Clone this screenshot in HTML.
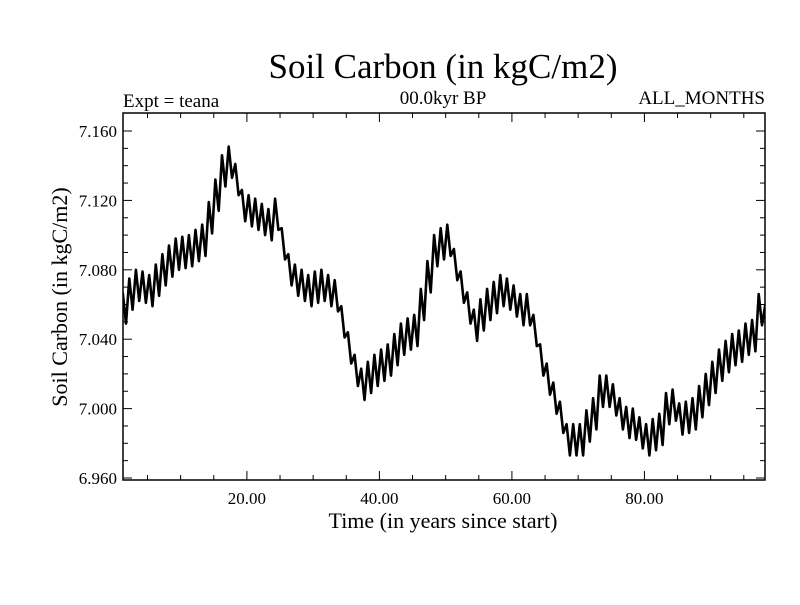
<!DOCTYPE html>
<html><head><meta charset="utf-8"><style>
body{margin:0;background:#fff}
svg text{font-family:"Liberation Serif",serif;fill:#000}
</style></head><body>
<svg id="chart" width="800" height="600" xmlns="http://www.w3.org/2000/svg">
<rect width="800" height="600" fill="#fff"/>
<text x="443" y="78" font-size="35" text-anchor="middle">Soil Carbon (in kgC/m2)</text>
<text x="123" y="107" font-size="19">Expt = teana</text>
<text x="443" y="104" font-size="19" text-anchor="middle">00.0kyr BP</text>
<text x="765" y="104" font-size="19" text-anchor="end">ALL_MONTHS</text>
<text transform="translate(67,297) rotate(-90)" font-size="22" text-anchor="middle">Soil Carbon (in kgC/m2)</text>
<text x="443" y="528" font-size="22" text-anchor="middle">Time (in years since start)</text>
<defs><clipPath id="pc"><rect x="123" y="113" width="642" height="367"/></clipPath></defs>
<g id="axes"></g>
<g id="series" clip-path="url(#pc)"></g>
<rect x="123" y="113" width="642" height="367" fill="none" stroke="#000" stroke-width="1.5"/>
</svg>
<script>
const startYear = 1;
const highs = [7.067,7.075,7.080,7.079,7.077,7.083,7.089,7.094,7.098,7.099,7.100,7.103,7.106,7.119,7.132,7.146,7.151,7.141,7.126,7.123,7.121,7.118,7.115,7.121,7.104,7.089,7.083,7.080,7.077,7.079,7.080,7.077,7.074,7.059,7.044,7.031,7.023,7.027,7.031,7.034,7.037,7.043,7.049,7.052,7.054,7.069,7.085,7.100,7.104,7.106,7.092,7.079,7.067,7.057,7.063,7.069,7.073,7.077,7.075,7.071,7.066,7.066,7.054,7.037,7.026,7.015,7.004,6.991,6.991,6.991,6.999,7.006,7.019,7.019,7.014,7.006,7.001,7.000,6.995,6.991,6.994,6.997,7.009,7.011,7.003,7.004,7.006,7.013,7.020,7.027,7.034,7.039,7.043,7.045,7.049,7.051,7.066,7.060];
const lows = [7.049,7.057,7.062,7.061,7.059,7.065,7.071,7.076,7.080,7.081,7.082,7.085,7.088,7.101,7.114,7.128,7.133,7.123,7.108,7.105,7.103,7.100,7.097,7.103,7.086,7.071,7.065,7.062,7.059,7.061,7.062,7.059,7.056,7.041,7.026,7.013,7.005,7.009,7.013,7.016,7.019,7.025,7.031,7.034,7.036,7.051,7.067,7.082,7.086,7.088,7.074,7.061,7.049,7.039,7.045,7.051,7.055,7.059,7.057,7.053,7.048,7.048,7.036,7.019,7.008,6.997,6.986,6.973,6.973,6.973,6.981,6.988,7.001,7.001,6.996,6.988,6.983,6.982,6.977,6.973,6.976,6.979,6.991,6.993,6.985,6.986,6.988,6.995,7.002,7.009,7.016,7.021,7.025,7.027,7.031,7.033,7.048,7.042];
const yTicks = [6.960,7.000,7.040,7.080,7.120,7.160];
const yTickLabels = ["6.960","7.000","7.040","7.080","7.120","7.160"];
const xTicks = [20,40,60,80];
const xTickLabels = ["20.00","40.00","60.00","80.00"];

const X0=123,X1=765,Y0=480,Y1=113;
const xMin=1.3,xMax=98.2,yMin=6.960,yMax=7.160;
const Yb=478,Yt=131;
function sx(v){return X0+(v-xMin)/(xMax-xMin)*(X1-X0);}
function sy(v){return Yb-(v-yMin)/(yMax-yMin)*(Yb-Yt);}
const NS="http://www.w3.org/2000/svg";
const axes=document.getElementById('axes');
function line(x1,y1,x2,y2,name){
  const l=document.createElementNS(NS,'line');
  l.setAttribute('x1',x1);l.setAttribute('y1',y1);l.setAttribute('x2',x2);l.setAttribute('y2',y2);
  l.setAttribute('stroke','#000');l.setAttribute('stroke-width','1');
  
  
  axes.appendChild(l);
}
function text(x,y,s,anchor,name){
  const t=document.createElementNS(NS,'text');
  t.setAttribute('x',x);t.setAttribute('y',y);t.setAttribute('font-size','17');t.setAttribute('text-anchor',anchor);
  t.textContent=s;
  
  
  axes.appendChild(t);
}
for(let v=yMin;v<=yMax+1e-9;v+=0.01){
  const y=sy(v);
  const major=Math.abs(((v-yMin)/0.04)-Math.round((v-yMin)/0.04))<1e-6;
  const len=major?9:5;
  line(X0,y,X0+len,y,'y-tick');
  line(X1,y,X1-len,y,'y-tick-right');
}
yTicks.forEach((v,i)=>text(X0-6,sy(v)+6,yTickLabels[i],'end','y-tick-label'));
for(let v=5;v<=95;v+=5){
  const x=sx(v);
  const major=v%20===0;
  const len=major?9:5;
  line(x,Y0,x,Y0-len,'x-tick');
  line(x,Y1,x,Y1+len,'x-tick-top');
}
xTicks.forEach((v,i)=>text(sx(v),Y0+24,xTickLabels[i],'middle','x-tick-label'));
let pts=[];
highs.forEach((h,i)=>{
  const yr=startYear+i;
  pts.push(sx(yr+0.25).toFixed(1)+','+sy(h).toFixed(1));
  pts.push(sx(yr+0.75).toFixed(1)+','+sy(lows[i]).toFixed(1));
});
const pl=document.createElementNS(NS,'polyline');
pl.setAttribute('points',pts.join(' '));
pl.setAttribute('fill','none');pl.setAttribute('stroke','#000');pl.setAttribute('stroke-width','2.6');
pl.setAttribute('stroke-linejoin','round');


document.getElementById('series').appendChild(pl);
</script>
</body></html>
